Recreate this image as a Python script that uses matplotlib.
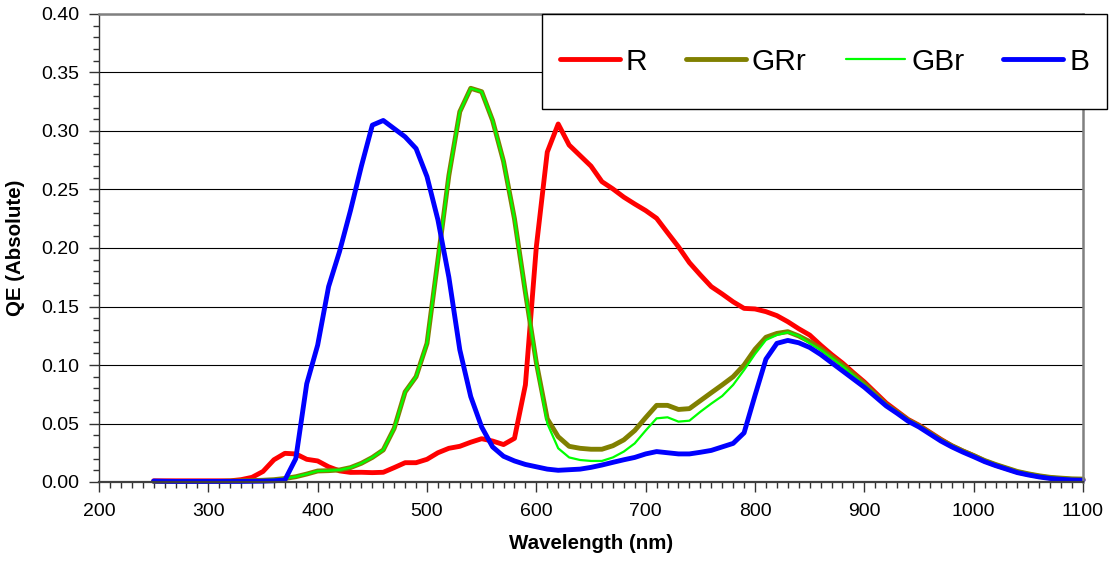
import matplotlib
matplotlib.use("Agg")
import matplotlib.pyplot as plt
from matplotlib.patches import Rectangle
from matplotlib.ticker import MultipleLocator, FormatStrFormatter

plt.rcParams['font.family'] = ['Liberation Sans', 'DejaVu Sans']

wavelength = list(range(250, 1110, 10))

R = [0.001, 0.001, 0.001, 0.001, 0.001, 0.001, 0.001, 0.001, 0.002, 0.004,
     0.009, 0.019, 0.0245, 0.024, 0.0194, 0.018, 0.013, 0.0095, 0.0082, 0.0083,
     0.008, 0.0083, 0.0123, 0.0165, 0.0165, 0.0194, 0.025, 0.0288, 0.0305, 0.034,
     0.037, 0.035, 0.032, 0.0373, 0.083, 0.201, 0.282, 0.306, 0.288, 0.279,
     0.27, 0.2567, 0.2505, 0.2435, 0.2376, 0.232, 0.2254, 0.2131, 0.201, 0.1875,
     0.177, 0.167, 0.1607, 0.154, 0.1484, 0.1479, 0.1456, 0.1422, 0.137, 0.131,
     0.1256, 0.117, 0.109, 0.1017, 0.0934, 0.0855, 0.0765, 0.0675, 0.0605, 0.0535,
     0.0485, 0.0425, 0.0365, 0.031, 0.0265, 0.0225, 0.018, 0.0145, 0.0115, 0.0085,
     0.0065, 0.0048, 0.0035, 0.0027, 0.0021, 0.0018]

GRr = [0.0005, 0.0005, 0.0005, 0.0005, 0.0005, 0.0005, 0.0005, 0.0008, 0.001, 0.0012,
       0.0015, 0.002, 0.003, 0.0045, 0.0068, 0.0094, 0.0097, 0.0103, 0.0123, 0.016,
       0.021, 0.0274, 0.0459, 0.077, 0.090, 0.1185, 0.19, 0.262, 0.3165, 0.3365,
       0.3336, 0.309, 0.274, 0.225, 0.162, 0.102, 0.054, 0.0387, 0.0305, 0.0288,
       0.028, 0.028, 0.031, 0.036, 0.044, 0.055, 0.0655, 0.0655, 0.062, 0.0627,
       0.0695, 0.0763, 0.083, 0.090, 0.100, 0.1134, 0.1237, 0.127, 0.1285, 0.1248,
       0.12, 0.114, 0.107, 0.1, 0.092, 0.084, 0.075, 0.066, 0.0597, 0.053,
       0.048, 0.042, 0.036, 0.031, 0.0266, 0.0226, 0.0184, 0.015, 0.012, 0.009,
       0.007, 0.0053, 0.004, 0.0033, 0.0027, 0.0025]

GBr = [0.0005, 0.0005, 0.0005, 0.0005, 0.0005, 0.0005, 0.0005, 0.0008, 0.001, 0.0012,
       0.0015, 0.002, 0.003, 0.0045, 0.0068, 0.0094, 0.0097, 0.0103, 0.0123, 0.016,
       0.021, 0.0274, 0.0459, 0.077, 0.090, 0.1185, 0.19, 0.262, 0.3165, 0.3365,
       0.3336, 0.309, 0.274, 0.225, 0.162, 0.102, 0.050, 0.0288, 0.021, 0.0188,
       0.018, 0.018, 0.021, 0.026, 0.033, 0.044, 0.0544, 0.0553, 0.0516, 0.0524,
       0.060, 0.067, 0.0735, 0.083, 0.0957, 0.1094, 0.1214, 0.1256, 0.128, 0.1248,
       0.1185, 0.113, 0.106, 0.099, 0.091, 0.083, 0.0745, 0.0658, 0.0595, 0.0528,
       0.0478, 0.0418, 0.0358, 0.0308, 0.0264, 0.0224, 0.0182, 0.0148, 0.0118, 0.0088,
       0.0068, 0.0051, 0.0038, 0.0031, 0.0025, 0.0023]

B = [0.0008, 0.0006, 0.0005, 0.0005, 0.0005, 0.0005, 0.0005, 0.0005, 0.0005, 0.0006,
     0.0007, 0.001, 0.0017, 0.020, 0.084, 0.117, 0.167, 0.197, 0.232, 0.270,
     0.305, 0.309, 0.302, 0.295, 0.285, 0.261, 0.224, 0.175, 0.113, 0.073,
     0.047, 0.030, 0.022, 0.018, 0.015, 0.013, 0.011, 0.010, 0.0105, 0.011,
     0.0125, 0.0145, 0.0168, 0.019, 0.021, 0.024, 0.026, 0.025, 0.024, 0.024,
     0.0254, 0.027, 0.030, 0.033, 0.042, 0.074, 0.105, 0.1185, 0.121, 0.119,
     0.115, 0.109, 0.102, 0.095, 0.088, 0.081, 0.073, 0.065, 0.0587, 0.052,
     0.047, 0.041, 0.035, 0.030, 0.0256, 0.0216, 0.0174, 0.014, 0.011, 0.008,
     0.006, 0.0043, 0.003, 0.0023, 0.0017, 0.0015]

series_names = ["R", "GRr", "GBr", "B"]
series_colors = ["#FF0000", "#808000", "#00FF00", "#0000FF"]
series_widths = [3.5, 3.5, 1.6, 3.5]
series_data = [R, GRr, GBr, B]

W, H = 1115, 565
fig = plt.figure(figsize=(W / 100, H / 100), dpi=100)
ax = fig.add_axes([99 / W, 1 - 482 / H, (1083 - 99) / W, (482 - 14) / H])

for name, col, lw, vals in zip(series_names, series_colors, series_widths, series_data):
    ax.plot(wavelength, vals, color=col, lw=lw, label=name, solid_joinstyle='round',
            solid_capstyle='round', clip_on=False)

ax.set_xlim(200, 1100)
ax.set_ylim(0, 0.40)
ax.xaxis.set_major_locator(MultipleLocator(100))
ax.xaxis.set_minor_locator(MultipleLocator(10))
ax.yaxis.set_major_locator(MultipleLocator(0.05))
ax.yaxis.set_minor_locator(MultipleLocator(0.01))
ax.yaxis.set_major_formatter(FormatStrFormatter('%.2f'))
ax.grid(axis='y', which='major', color='black', lw=0.8)
ax.set_axisbelow(True)

ax.tick_params(axis='both', which='major', direction='out', length=7, width=1,
               labelsize=14, color='#333333')
ax.tick_params(axis='both', which='minor', direction='out', length=4.5, width=1,
               color='#333333')
ax.tick_params(axis='x', which='major', pad=8)
ax.tick_params(axis='y', which='major', pad=7)

for side in ['top', 'right']:
    ax.spines[side].set_color('#808080')
    ax.spines[side].set_linewidth(1.8)
ax.spines['left'].set_color('#333333')
ax.spines['left'].set_linewidth(1.0)
ax.spines['bottom'].set_color('#404040')
ax.spines['bottom'].set_linewidth(1.6)

ax.set_xlabel('Wavelength (nm)', fontsize=14.8, fontweight='bold', labelpad=10)
ax.set_ylabel('QE (Absolute)', fontsize=14.8, fontweight='bold', labelpad=12)

# legend box (frame drawn separately to match its size)
box_x0, box_y0, box_w, box_h = 542 / W, 1 - 109 / H, (1107 - 542) / W, (109 - 14) / H
fig.patches.append(Rectangle((box_x0, box_y0), box_w, box_h, transform=fig.transFigure,
                             facecolor='white', edgecolor='black', lw=1.0, zorder=3))

leg = fig.legend(loc='center',
                 bbox_to_anchor=(box_x0, box_y0, box_w, box_h),
                 mode='expand', ncol=4, fontsize=21.5, frameon=False,
                 handlelength=2.0, handletextpad=0.2, borderpad=0.6,
                 borderaxespad=0)
leg.set_zorder(5)
for line in leg.get_lines():
    line.set_solid_capstyle('round')

fig.savefig('out.png', dpi=100)
